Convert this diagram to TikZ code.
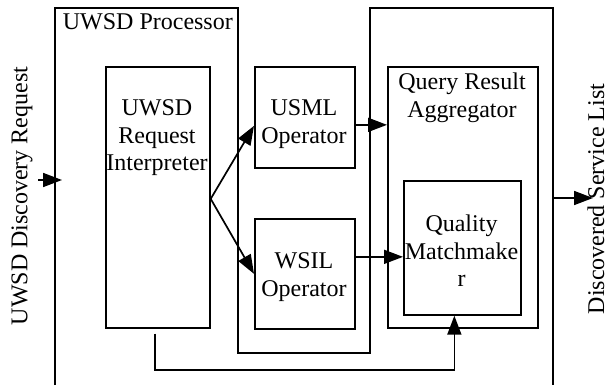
\documentclass[tikz,border=0pt]{standalone}
\usepackage{fontspec}
\setmainfont{Liberation Serif}
\usetikzlibrary{arrows.meta,calc}
\begin{document}
\begin{tikzpicture}[x=1pt,y=-1pt,
  line width=1.7pt,
  every node/.style={font=\fontsize{24}{27.5}\selectfont, inner sep=0pt},
  boxnode/.style={draw, rectangle, anchor=north west, inner sep=0pt},
  txt/.style={align=center, anchor=north},
  arr/.style={-{Triangle[length=19pt,width=14pt]}}]
\useasboundingbox (0,0) rectangle (609,385);
% outer frames
\draw (55,385) -- (55,8) -- (238,8) -- (238,353) -- (370,353) -- (370,8) -- (553,8) -- (553,385);
\node[anchor=base west] (proc) at (62,30) {UWSD Processor};
% boxes
\node[boxnode, minimum width=104pt, minimum height=261pt] (interp) at (105,66) {};
\node[boxnode, minimum width=100pt, minimum height=101pt] (usml) at (254,66) {};
\node[boxnode, minimum width=100pt, minimum height=110pt] (wsil) at (254,218) {};
\node[boxnode, minimum width=150pt, minimum height=261pt] (agg) at (387,66) {};
\node[boxnode, minimum width=117pt, minimum height=134pt] (qm) at (403,180) {};
% texts
\node[txt] (interpT) at (157,99) {UWSD\\Request\\Interpreter};
\node[txt] (usmlT) at (304,99) {USML\\Operator};
\node[txt] (wsilT) at (304,252) {WSIL\\Operator};
\node[txt] (aggT) at (462,72) {Query Result\\Aggregator};
\node[txt] (qmT) at (461.5,214) {Quality\\Matchmake\\r};
% side labels
\node[rotate=90] (inLabel) at (22,196) {UWSD Discovery Request};
\node[rotate=90] (outLabel) at (596,199) {Discovered Service List};
% connectors
\coordinate (inStart) at (38,180);
\coordinate (inTip) at (62,180);
\coordinate (outStart) at (553,198);
\coordinate (outTip) at (593,198);
\coordinate (bot) at (154,370);
\coordinate (src) at ([yshift=-1.5pt]interp.east);
\draw[arr] (inStart) -- (inTip);
\draw[arr] (outStart) -- (outTip);
\draw[arr] (src) -- ([yshift=-8.5pt]usml.west);
\draw[arr] (src) -- (wsil.west);
\draw[arr] ([yshift=-7.5pt]usml.east) -- ([yshift=-7.5pt]usml.east -| agg.west);
\draw[arr] ([yshift=17pt]wsil.east) -- ([yshift=17pt]wsil.east -| qm.west);
\draw[arr] ([xshift=-3pt,yshift=-5pt]interp.south) -- ([xshift=-3pt]interp.south |- bot) -- ([xshift=-8pt]qm.south |- bot) -- ([xshift=-8pt]qm.south);
\end{tikzpicture}
\end{document}
